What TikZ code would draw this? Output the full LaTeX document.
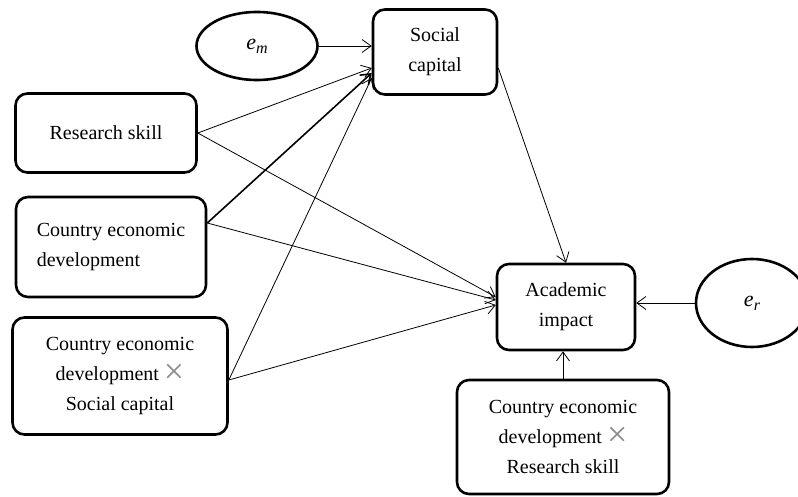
\documentclass[tikz,border=0pt]{standalone}
\usepackage{fontspec}
\setmainfont{Liberation Serif}
\usetikzlibrary{shapes.geometric,arrows.meta}
\newcommand{\crossmark}{\textcolor{black!45}{\fontsize{36}{30}\selectfont\raisebox{-3pt}{×}}}
\begin{document}
\begin{tikzpicture}[x=1pt,y=-1pt,
 box/.style={draw,line width=2.6pt,rounded corners=12pt,align=center,
   font=\fontsize{20}{30}\selectfont,inner sep=0pt},
 oval/.style={draw,ellipse,line width=2.6pt,inner sep=0pt,
   font=\fontsize{22}{24}\selectfont},
 arr/.style={-{Straight Barb[length=9pt,width=13pt]},line width=0.8pt},
 thickarr/.style={arr,line width=1.6pt}]
\useasboundingbox (0,0) rectangle (798,497);
\clip (0,0) rectangle (798,497);
\node[oval,minimum width=121pt,minimum height=68pt] (em) at (257,46)
  {\textit{e}\raisebox{-4pt}{\fontsize{16}{16}\selectfont\textit{m}}};
\node[box,minimum width=124pt,minimum height=85pt] (sc) at (435,52) {\raisebox{-4pt}{Social}\\\raisebox{-4pt}{capital}};
\node[box,minimum width=181pt,minimum height=79pt] (rs) at (106,133) {Research skill};
\node[box,minimum width=190pt,minimum height=100pt,align=left] (ced) at (111,247) {Country economic\\development};
\node[box,minimum width=215pt,minimum height=117pt] (cedsc) at (120,376)
  {Country economic\\development \crossmark\\Social capital};
\node[box,minimum width=138pt,minimum height=86pt] (ai) at (566,307) {Academic\\impact};
\node[oval,minimum width=112pt,minimum height=88pt] (er) at (752,303)
  {\textit{e}\raisebox{-4pt}{\fontsize{16}{16}\selectfont\textit{r}}};
\node[box,minimum width=212pt,minimum height=114pt] (cedrs) at (563,437)
  {Country economic\\development \crossmark\\Research skill};
% connectors
\draw[arr] (em.east) -- (sc.west |- em.east);
\draw[arr] (rs.east) -- ([yshift=-16pt]sc.west);
\draw[thickarr] ([yshift=24pt]ced.east) -- ([yshift=-21pt]sc.west);
\draw[arr] ([yshift=-4pt]cedsc.east) -- ([yshift=-26pt]sc.west);
\draw[arr] (rs.east) -- ([yshift=10pt]ai.west);
\draw[arr] ([yshift=24pt]ced.east) -- ([yshift=7pt]ai.west);
\draw[arr] ([yshift=-4pt]cedsc.east) -- ([yshift=2pt]ai.west);
\draw[arr] ([yshift=-16pt]sc.east) -- (ai.north);
\draw[arr] (er.west) -- (ai.east |- er.west);
\draw[arr] (cedrs.north) -- (ai.south -| cedrs.north);
\end{tikzpicture}
\end{document}
